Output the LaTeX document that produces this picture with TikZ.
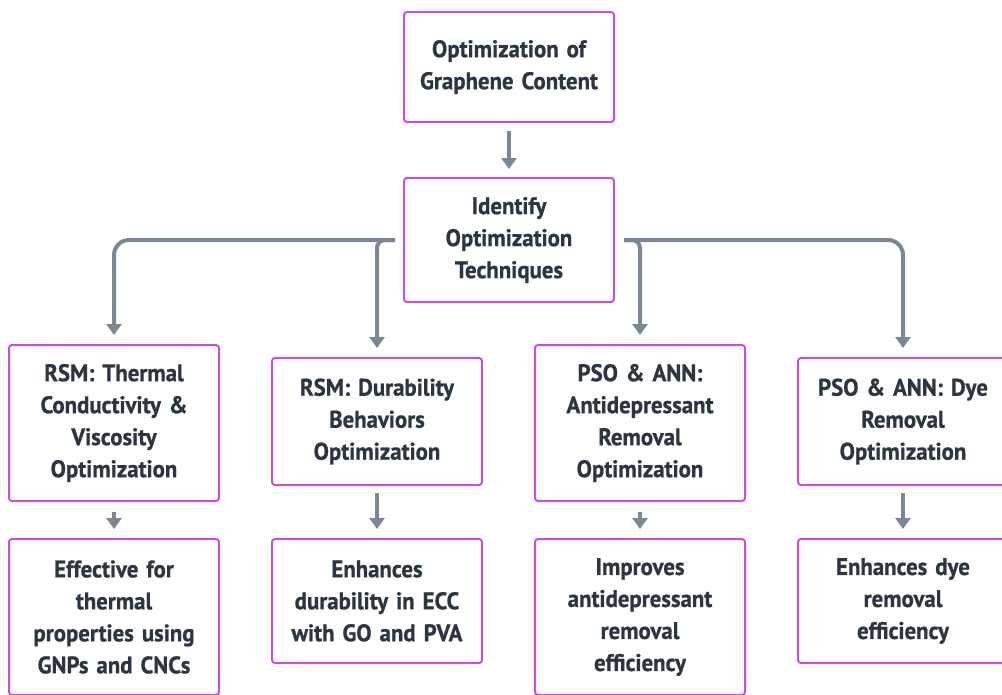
\documentclass[tikz,border=0pt]{standalone}
\usepackage{fontspec}
\setmainfont[FakeStretch=0.95, WordSpace=0.85, BoldFeatures={FakeBold=0.8}]{PT Sans}
\usetikzlibrary{arrows.meta}
\definecolor{boxline}{HTML}{C94FD6}
\definecolor{arrowc}{HTML}{7B8794}
\definecolor{txt}{HTML}{2B3642}
\tikzset{
  box/.style={draw=boxline, line width=2pt, rounded corners=3pt, fill=white,
    minimum width=210pt, text width=206pt, align=center, inner sep=0pt,
    font=\fontsize{24}{32}\selectfont\bfseries, text=txt},
  conn/.style={draw=arrowc, line width=4pt, -{Triangle[length=11pt,width=15pt]}},
}
\begin{document}
\begin{tikzpicture}[x=1pt,y=-1pt]
\useasboundingbox (0,0) rectangle (1002,694);
\clip (0,0) rectangle (1002,694);
\node[box, minimum height=110pt] (top) at (509,67) {Optimization of\\Graphene Content};
\node[box, minimum height=124pt] (id) at (509,240) {Identify\\Optimization\\Techniques};
\node[box, minimum height=156pt] (b1) at (114,423) {RSM: Thermal\\Conductivity \&\\Viscosity\\Optimization};
\node[box, minimum height=127pt] (b2) at (377,421.5) {RSM: Durability\\Behaviors\\Optimization};
\node[box, minimum height=156pt] (b3) at (640,423) {PSO \& ANN:\\Antidepressant\\Removal\\Optimization};
\node[box, minimum height=127pt] (b4) at (903,421.5) {PSO \& ANN: Dye\\Removal\\Optimization};
\node[box, minimum height=156pt] (c1) at (114,617) {Effective for\\thermal\\properties using\\GNPs and CNCs};
\node[box, minimum height=124pt] (c2) at (377,601) {Enhances\\durability in ECC\\with GO and PVA};
\node[box, minimum height=156pt] (c3) at (640,617) {Improves\\antidepressant\\removal\\efficiency};
\node[box, minimum height=124pt] (c4) at (903,601) {Enhances dye\\removal\\efficiency};
\draw[conn, shorten <=8pt, shorten >=8pt] (top.south) -- (id.north);
\draw[conn, rounded corners=15pt, shorten >=9pt] ([xshift=-8pt]id.west) -| (b1.north);
\draw[conn, rounded corners=8pt, shorten >=9pt] ([xshift=-8pt]id.west) -| (b2.north);
\draw[conn, rounded corners=8pt, shorten >=9pt] ([xshift=9pt]id.east) -| (b3.north);
\draw[conn, rounded corners=15pt, shorten >=9pt] ([xshift=9pt]id.east) -| (b4.north);
\draw[conn, shorten <=10pt, shorten >=9pt] (b1.south) -- (c1.north);
\draw[conn, shorten <=7pt, shorten >=9pt] (b2.south) -- (c2.north);
\draw[conn, shorten <=10pt, shorten >=9pt] (b3.south) -- (c3.north);
\draw[conn, shorten <=7pt, shorten >=9pt] (b4.south) -- (c4.north);
\end{tikzpicture}
\end{document}
